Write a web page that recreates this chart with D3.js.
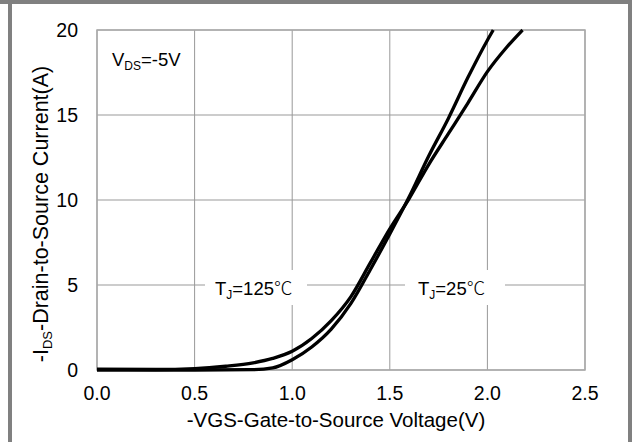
<!DOCTYPE html>
<html>
<head>
<meta charset="utf-8">
<script src="https://cdn.jsdelivr.net/npm/d3@7"></script>
<style>
  body { margin: 0; background: #fff; }
  svg { display: block; font-family: "Liberation Sans", Arial, sans-serif; }
</style>
</head>
<body>
<svg id="chart"></svg>
<script>
let w = 632
let h = 442

// data
let vgs25 = [0, 0.5, 0.8, 0.9, 1.0, 1.1, 1.2, 1.3, 1.4, 1.5, 1.6, 1.7, 1.8, 1.9, 2.0, 2.03]
let id25 = [0, 0, 0.02, 0.12, 0.6, 1.35, 2.4, 3.9, 5.9, 8.0, 10.2, 12.6, 14.8, 17.2, 19.4, 20]

let vgs125 = [0, 0.3, 0.5, 0.66, 0.8, 0.9, 1.0, 1.1, 1.2, 1.3, 1.4, 1.5, 1.6, 1.7, 1.8, 1.9, 2.0, 2.1, 2.18]
let id125 = [0.05, 0.03, 0.08, 0.22, 0.42, 0.68, 1.1, 1.85, 2.9, 4.3, 6.3, 8.3, 10.1, 12.1, 13.9, 15.7, 17.55, 19.0, 20]

let xTicks = [0, 0.5, 1.0, 1.5, 2.0, 2.5]
let yTicks = [0, 5, 10, 15, 20]

let svg = d3.select('#chart')
  .attr('width', w)
  .attr('height', h)

// outer frame
svg.append('rect').attr('x', 0).attr('y', 0).attr('width', w).attr('height', 4).attr('fill', '#808080')
svg.append('rect').attr('x', 8).attr('y', 0).attr('width', 4).attr('height', h).attr('fill', '#808080')
svg.append('rect').attr('x', 628).attr('y', 0).attr('width', 4).attr('height', h).attr('fill', '#808080')

let x = d3.scaleLinear().domain([0, 2.5]).range([97, 585])
let y = d3.scaleLinear().domain([0, 20]).range([370, 30])

// grid
svg.append('g')
  .selectAll('line')
  .data(xTicks)
  .join('line')
  .attr('x1', d => x(d)).attr('x2', d => x(d))
  .attr('y1', y(0)).attr('y2', y(20))
  .attr('stroke', '#999').attr('stroke-width', 1)

svg.append('g')
  .selectAll('line')
  .data(yTicks)
  .join('line')
  .attr('x1', x(0)).attr('x2', x(2.5))
  .attr('y1', d => y(d)).attr('y2', d => y(d))
  .attr('stroke', '#999').attr('stroke-width', 1)

svg.append('rect')
  .attr('x', x(0)).attr('y', y(20))
  .attr('width', x(2.5) - x(0)).attr('height', y(0) - y(20))
  .attr('fill', 'none').attr('stroke', '#aaa').attr('stroke-width', 1.5)

// tick labels
svg.append('g')
  .selectAll('text')
  .data(xTicks)
  .join('text')
  .attr('x', d => x(d))
  .attr('y', 400)
  .attr('text-anchor', 'middle')
  .attr('font-size', 19.5)
  .text(d => d.toFixed(1))

svg.append('g')
  .selectAll('text')
  .data(yTicks)
  .join('text')
  .attr('x', 78)
  .attr('y', d => y(d) + 7)
  .attr('text-anchor', 'end')
  .attr('font-size', 19.5)
  .text(d => d)

// curve labels with white boxes over the grid
let addLabel = (bx, by, bw, bh, tx, ty, t) => {
  svg.append('rect').attr('x', bx).attr('y', by).attr('width', bw).attr('height', bh).attr('fill', '#fff')
  let txt = svg.append('text').attr('x', tx).attr('y', ty).attr('font-size', 18.5)
  txt.append('tspan').text('T')
  txt.append('tspan').attr('font-size', 12).attr('dy', 4).text('J')
  txt.append('tspan').attr('dy', -4).text(t)
  txt.append('tspan').attr('font-family', '"Noto Sans CJK SC", sans-serif').attr('font-weight', 300).text('℃')
}
addLabel(205, 270, 102, 35, 215, 295, '=125')
addLabel(405, 270, 100, 35, 418, 295, '=25')

let vds = svg.append('text').attr('x', 112).attr('y', 66).attr('font-size', 18.5)
vds.append('tspan').text('V')
vds.append('tspan').attr('font-size', 12).attr('dy', 4).text('DS')
vds.append('tspan').attr('dy', -4).text('=-5V')

// curves
let line = d3.line()
  .x(d => x(d[0]))
  .y(d => y(d[1]))
  .curve(d3.curveMonotoneX)

svg.append('path')
  .datum(d3.zip(vgs125, id125))
  .attr('d', line)
  .attr('fill', 'none').attr('stroke', '#000').attr('stroke-width', 3.3)

svg.append('path')
  .datum(d3.zip(vgs25, id25))
  .attr('d', line)
  .attr('fill', 'none').attr('stroke', '#000').attr('stroke-width', 3.3)

// axis titles
svg.append('text')
  .attr('x', 336).attr('y', 427)
  .attr('text-anchor', 'middle')
  .attr('font-size', 20.5)
  .text('-VGS-Gate-to-Source Voltage(V)')

let yt = svg.append('text')
  .attr('transform', 'translate(48,214) rotate(-90)')
  .attr('text-anchor', 'middle')
  .attr('font-size', 21.5)
yt.append('tspan').text('-I')
yt.append('tspan').attr('font-size', 13).attr('dy', 4).text('DS')
yt.append('tspan').attr('dy', -4).text('-Drain-to-Source Current(A)')
</script>
</body>
</html>
